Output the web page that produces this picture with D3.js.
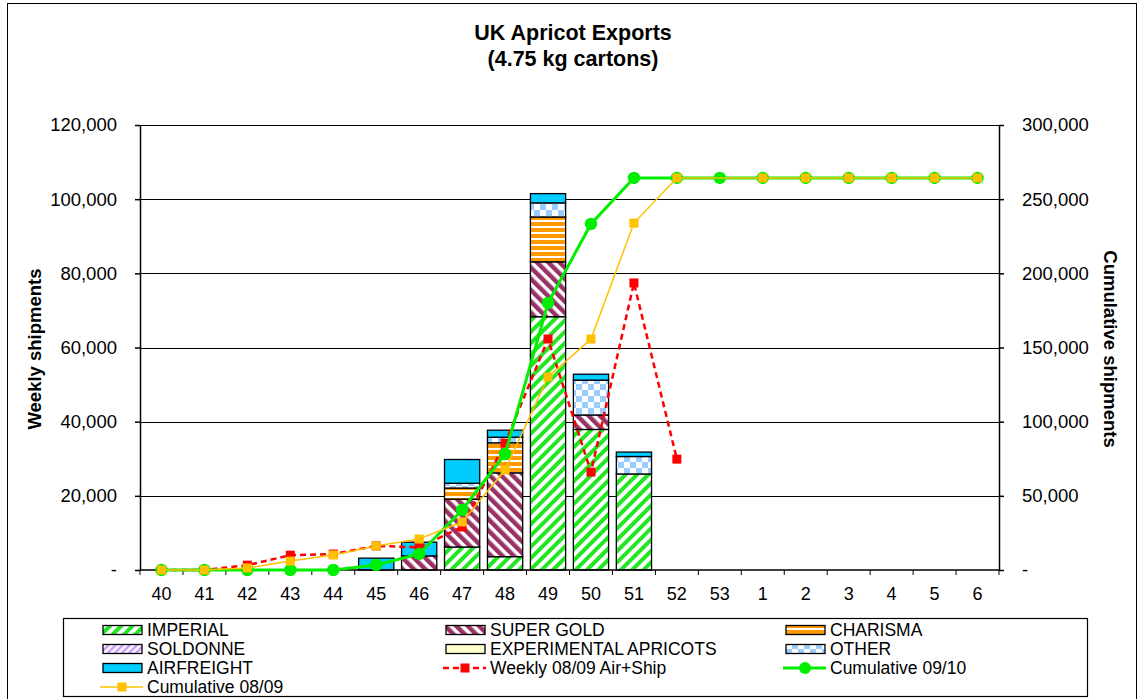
<!DOCTYPE html>
<html>
<head>
<meta charset="utf-8">
<script src="https://cdn.jsdelivr.net/npm/d3@7"></script>
<style>
  body { margin: 0; background: #fff; }
  text { font-family: "Liberation Sans", Arial, sans-serif; fill: #000; }
</style>
</head>
<body>
<div id="chart"></div>
<script>
// week labels along the x axis
var weeks = ["40","41","42","43","44","45","46","47","48","49","50","51","52","53","1","2","3","4","5","6"];

// weekly shipments per variety (cartons)
var imperial     = [0,0,0,0,0,0,0,6200,3600,68300,37900,25900,0,0,0,0,0,0,0,0];
var superGold    = [0,0,0,0,0,0,3800,12900,22600,14800,3900,0,0,0,0,0,0,0,0,0];
var charisma     = [0,0,0,0,0,0,0,3000,8100,12100,0,0,0,0,0,0,0,0,0,0];
var soldonne     = [0,0,0,0,0,0,0,0,0,0,0,0,0,0,0,0,0,0,0,0];
var experimental = [0,0,0,0,0,0,0,0,0,0,0,0,0,0,0,0,0,0,0,0];
var other        = [0,0,0,0,0,0,0,1300,1500,3800,9400,4700,0,0,0,0,0,0,0,0];
var airfreight   = [0,0,0,0,0,3200,3700,6400,1900,2500,1600,1200,0,0,0,0,0,0,0,0];

// lines
var weekly0809 = [0,0,1300,4000,4300,6500,6100,11600,34200,62300,26400,77400,29900,null,null,null,null,null,null,null];
var cum0910    = [0,0,0,0,0,3400,10800,40500,78200,180000,233300,264300,264300,264300,264300,264300,264300,264300,264300,264300];
var cum0809    = [0,0,1350,6000,10100,16200,20900,32400,67400,130100,155700,233900,264300,null,264300,264300,264300,264300,264300,264300];

var leftTicks  = [0,20000,40000,60000,80000,100000,120000];
var rightTicks = [0,50000,100000,150000,200000,250000,300000];

var width = 1139, height = 699;
var plot = {left: 140, right: 999, top: 125, bottom: 570};

var svg = d3.select("#chart").append("svg")
    .attr("width", width)
    .attr("height", height);

// patterns for the varieties
var defs = svg.append("defs");
function stripes(id, color, angle, size, band) {
    var p = defs.append("pattern").attr("id", id)
        .attr("patternUnits", "userSpaceOnUse")
        .attr("width", size).attr("height", size)
        .attr("patternTransform", "rotate(" + angle + ")");
    p.append("rect").attr("width", size).attr("height", size).attr("fill", "#fff");
    p.append("rect").attr("width", band).attr("height", size).attr("fill", color);
}
stripes("p-imperial", "#22e622", 45, 8, 4);
stripes("p-supergold", "#993366", -45, 8, 4.5);
stripes("p-soldonne", "#cc99ff", 45, 5, 2.5);
stripes("p-charisma", "#ff9900", 90, 6, 4);
var chk = defs.append("pattern").attr("id", "p-other")
    .attr("patternUnits", "userSpaceOnUse").attr("width", 12).attr("height", 12);
chk.append("rect").attr("width", 12).attr("height", 12).attr("fill", "#fff");
chk.append("rect").attr("width", 6).attr("height", 6).attr("fill", "#99ccff");
chk.append("rect").attr("x", 6).attr("y", 6).attr("width", 6).attr("height", 6).attr("fill", "#99ccff");

var series = [
    {key: "IMPERIAL", values: imperial, fill: "url(#p-imperial)"},
    {key: "SUPER GOLD", values: superGold, fill: "url(#p-supergold)"},
    {key: "CHARISMA", values: charisma, fill: "url(#p-charisma)"},
    {key: "SOLDONNE", values: soldonne, fill: "url(#p-soldonne)"},
    {key: "EXPERIMENTAL APRICOTS", values: experimental, fill: "#ffffcc"},
    {key: "OTHER", values: other, fill: "url(#p-other)"},
    {key: "AIRFREIGHT", values: airfreight, fill: "#00ccff"}
];

var rows = weeks.map(function(w, i) {
    var r = {week: w};
    series.forEach(function(s) { r[s.key] = s.values[i]; });
    return r;
});

// scales
var pad = 0.18;
var x = d3.scaleBand().domain(weeks).range([plot.left, plot.right])
    .paddingInner(pad).paddingOuter(pad / 2);
var yL = d3.scaleLinear().domain([0, 120000]).range([plot.bottom, plot.top]);
var yR = d3.scaleLinear().domain([0, 300000]).range([plot.bottom, plot.top]);
var fmt = function(d) { return d === 0 ? "-" : d3.format(",")(d); };

// outer border
svg.append("rect").attr("x", 7.5).attr("y", 3.5).attr("width", 1129).attr("height", 710)
    .attr("fill", "none").attr("stroke", "#000").attr("stroke-width", 1);

// gridlines
svg.append("g").selectAll("line").data(leftTicks.slice(1)).enter().append("line")
    .attr("x1", plot.left).attr("x2", plot.right)
    .attr("y1", function(d) { return Math.round(yL(d)) + 0.5; })
    .attr("y2", function(d) { return Math.round(yL(d)) + 0.5; })
    .attr("stroke", "#000").attr("stroke-width", 1);

// stacked bars
var stack = d3.stack().keys(series.map(function(s) { return s.key; }));
var layers = stack(rows);
layers.forEach(function(layer, li) {
    svg.append("g").selectAll("rect")
        .data(layer.filter(function(d) { return d[1] - d[0] > 0; }))
        .enter().append("rect")
        .attr("x", function(d) { return x(d.data.week); })
        .attr("width", x.bandwidth())
        .attr("y", function(d) { return yL(d[1]); })
        .attr("height", function(d) { return yL(d[0]) - yL(d[1]); })
        .attr("fill", series[li].fill)
        .attr("stroke", "#000").attr("stroke-width", 1.3);
});

// axes
var axL = svg.append("g").attr("transform", "translate(" + plot.left + ",0)")
    .call(d3.axisLeft(yL).tickValues(leftTicks).tickFormat(fmt).tickSize(5).tickSizeOuter(0).tickPadding(18));
var axR = svg.append("g").attr("transform", "translate(" + plot.right + ",0)")
    .call(d3.axisRight(yR).tickValues(rightTicks).tickFormat(fmt).tickSize(5).tickSizeOuter(0).tickPadding(18));
[axL, axR].forEach(function(a) {
    a.selectAll("text").style("font-size", "18.5px").attr("fill", "#000");
    a.selectAll("line, path").attr("stroke", "#000").attr("stroke-width", 1.5);
});

// x axis: labels at centres, ticks at band boundaries
var axB = svg.append("g").attr("transform", "translate(0," + plot.bottom + ")");
axB.append("line").attr("x1", plot.left).attr("x2", plot.right)
    .attr("stroke", "#000").attr("stroke-width", 1.5);
var step = x.step();
var bounds = weeks.map(function(w) { return x(w) - step * pad / 2; }).concat([plot.right]);
axB.selectAll(".tk").data(bounds).enter().append("line")
    .attr("x1", function(d) { return d; }).attr("x2", function(d) { return d; })
    .attr("y1", 0).attr("y2", 5).attr("stroke", "#000").attr("stroke-width", 1);
axB.selectAll(".lbl").data(weeks).enter().append("text")
    .attr("x", function(d) { return x(d) + x.bandwidth() / 2; })
    .attr("y", 30).attr("text-anchor", "middle")
    .style("font-size", "18px").text(function(d) { return d; });

// lines
function drawLine(vals, scale, color, w, dash) {
    var pts = vals.map(function(v, i) { return {w: weeks[i], v: v}; })
        .filter(function(d) { return d.v !== null; });
    var line = d3.line()
        .x(function(d) { return x(d.w) + x.bandwidth() / 2; })
        .y(function(d) { return scale(d.v); });
    svg.append("path").datum(pts).attr("d", line)
        .attr("fill", "none").attr("stroke", color).attr("stroke-width", w)
        .attr("stroke-dasharray", dash || null);
    return pts;
}
var redPts = drawLine(weekly0809, yL, "#ff0000", 2.5, "6,4");
svg.append("g").selectAll("rect").data(redPts).enter().append("rect")
    .attr("x", function(d) { return x(d.w) + x.bandwidth() / 2 - 4.5; })
    .attr("y", function(d) { return yL(d.v) - 4.5; })
    .attr("width", 9).attr("height", 9).attr("fill", "#ff0000");

var greenPts = drawLine(cum0910, yR, "#00ee00", 3);
svg.append("g").selectAll("circle").data(greenPts).enter().append("circle")
    .attr("cx", function(d) { return x(d.w) + x.bandwidth() / 2; })
    .attr("cy", function(d) { return yR(d.v); })
    .attr("r", 6.2).attr("fill", "#00ee00");

var yellowPts = drawLine(cum0809, yR, "#ffc000", 1.5);
svg.append("g").selectAll("rect").data(yellowPts).enter().append("rect")
    .attr("x", function(d) { return x(d.w) + x.bandwidth() / 2 - 4.5; })
    .attr("y", function(d) { return yR(d.v) - 4.5; })
    .attr("width", 9).attr("height", 9).attr("fill", "#ffc000");

// titles
svg.append("text").attr("x", 573).attr("y", 40).attr("text-anchor", "middle")
    .style("font-size", "21.5px").style("font-weight", "bold").text("UK Apricot Exports");
svg.append("text").attr("x", 573).attr("y", 66).attr("text-anchor", "middle")
    .style("font-size", "21.5px").style("font-weight", "bold").text("(4.75 kg cartons)");
svg.append("text").attr("transform", "translate(41,349) rotate(-90)").attr("text-anchor", "middle")
    .style("font-size", "18.5px").style("font-weight", "bold").text("Weekly shipments");
svg.append("text").attr("transform", "translate(1104,349) rotate(90)").attr("text-anchor", "middle")
    .style("font-size", "18.5px").style("font-weight", "bold").text("Cumulative shipments");

// legend
var lg = svg.append("g");
lg.append("rect").attr("x", 63.5).attr("y", 618.5).attr("width", 1024).attr("height", 78)
    .attr("fill", "#fff").attr("stroke", "#000").attr("stroke-width", 1.2);
var legendItems = series.map(function(s) { return {name: s.key, fill: s.fill}; }).concat([
    {name: "Weekly 08/09 Air+Ship", line: "#ff0000", dash: "6,4", marker: "square", w: 2.5},
    {name: "Cumulative 09/10", line: "#00ee00", marker: "circle", w: 3},
    {name: "Cumulative 08/09", line: "#ffc000", marker: "square", w: 1.5}
]);
var colX = [103, 446, 786], rowY = [630, 649, 668, 687];
legendItems.forEach(function(it, i) {
    var cx = colX[i % 3], cy = rowY[Math.floor(i / 3)];
    var g = lg.append("g").attr("transform", "translate(" + cx + "," + cy + ")");
    if (it.fill) {
        g.append("rect").attr("x", 0).attr("y", -4.5).attr("width", 39).attr("height", 9)
            .attr("fill", it.fill).attr("stroke", "#000").attr("stroke-width", 1.3);
    } else {
        g.append("line").attr("x1", -3).attr("x2", 40).attr("y1", 0).attr("y2", 0)
            .attr("stroke", it.line).attr("stroke-width", it.w).attr("stroke-dasharray", it.dash || null);
        if (it.marker === "circle") {
            g.append("circle").attr("cx", 19).attr("cy", 0).attr("r", 6).attr("fill", it.line);
        } else {
            g.append("rect").attr("x", 14.5).attr("y", -4.5).attr("width", 9).attr("height", 9).attr("fill", it.line);
        }
    }
    g.append("text").attr("x", 44).attr("y", 0).attr("dy", "0.35em")
        .style("font-size", "17.5px").text(it.name);
});
</script>
</body>
</html>
